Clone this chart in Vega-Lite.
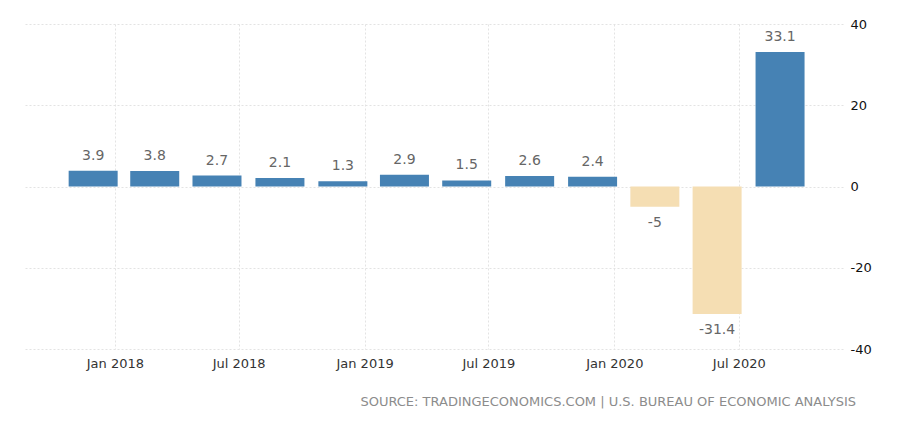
{
  "$schema": "https://vega.github.io/schema/vega-lite/v6.json",
  "autosize": {"type": "none"},
  "padding": {"left": 25, "top": 24, "right": 69, "bottom": 76},
  "width": 818,
  "height": 325,
  "background": "white",
  "config": {
    "view": {"stroke": null},
    "font": "DejaVu Sans",
    "axis": {
      "grid": true,
      "gridColor": "#e3e3e3",
      "gridDash": [2, 2],
      "gridWidth": 1,
      "domain": false,
      "ticks": false,
      "title": null,
      "labelFont": "DejaVu Sans",
      "labelFontSize": 13
    }
  },
  "title": {
    "text": "SOURCE: TRADINGECONOMICS.COM | U.S. BUREAU OF ECONOMIC ANALYSIS",
    "orient": "bottom",
    "anchor": "end",
    "frame": "group",
    "dx": 13,
    "offset": 26,
    "font": "DejaVu Sans",
    "fontSize": 13,
    "fontWeight": "normal",
    "color": "#8c8c8c"
  },
  "data": {
    "values": [
      {"quarter": "2017-12-31", "growth": 3.9},
      {"quarter": "2018-03-31", "growth": 3.8},
      {"quarter": "2018-06-30", "growth": 2.7},
      {"quarter": "2018-09-30", "growth": 2.1},
      {"quarter": "2018-12-31", "growth": 1.3},
      {"quarter": "2019-03-31", "growth": 2.9},
      {"quarter": "2019-06-30", "growth": 1.5},
      {"quarter": "2019-09-30", "growth": 2.6},
      {"quarter": "2019-12-31", "growth": 2.4},
      {"quarter": "2020-03-31", "growth": -5},
      {"quarter": "2020-06-30", "growth": -31.4},
      {"quarter": "2020-09-30", "growth": 33.1}
    ]
  },
  "encoding": {
    "x": {
      "field": "quarter",
      "type": "temporal",
      "scale": {
        "type": "utc",
        "domain": [
          {"year": 2017, "month": 8, "date": 30, "utc": true},
          {"year": 2020, "month": 11, "date": 23, "utc": true}
        ]
      },
      "axis": {
        "orient": "bottom",
        "labelExpr": "utcFormat(datum.value, '%b %Y')",
        "labelColor": "#333333",
        "labelPadding": 8,
        "values": [
          {"year": 2018, "month": 1, "date": 1, "utc": true},
          {"year": 2018, "month": 7, "date": 1, "utc": true},
          {"year": 2019, "month": 1, "date": 1, "utc": true},
          {"year": 2019, "month": 7, "date": 1, "utc": true},
          {"year": 2020, "month": 1, "date": 1, "utc": true},
          {"year": 2020, "month": 7, "date": 1, "utc": true}
        ]
      }
    },
    "y": {
      "field": "growth",
      "type": "quantitative",
      "scale": {"domain": [-40, 40], "nice": false},
      "axis": {
        "orient": "right",
        "values": [-40, -20, 0, 20, 40],
        "labelExpr": "toString(datum.value)",
        "labelColor": "#111111",
        "labelPadding": 7,
        "labelAlign": "left"
      }
    }
  },
  "layer": [
    {
      "mark": {"type": "bar", "width": 49, "xOffset": -21},
      "encoding": {
        "color": {
          "condition": {"test": "datum.growth < 0", "value": "#f5deb3"},
          "value": "#4682b4"
        }
      }
    },
    {
      "transform": [{"filter": "datum.growth >= 0"}],
      "mark": {"type": "text", "xOffset": -21, "dy": -15, "baseline": "middle", "fontSize": 14, "color": "#666666"},
      "encoding": {"text": {"field": "growth", "type": "nominal"}}
    },
    {
      "transform": [{"filter": "datum.growth < 0"}],
      "mark": {"type": "text", "xOffset": -21, "dy": 16, "baseline": "middle", "fontSize": 14, "color": "#666666"},
      "encoding": {"text": {"field": "growth", "type": "nominal"}}
    }
  ]
}
